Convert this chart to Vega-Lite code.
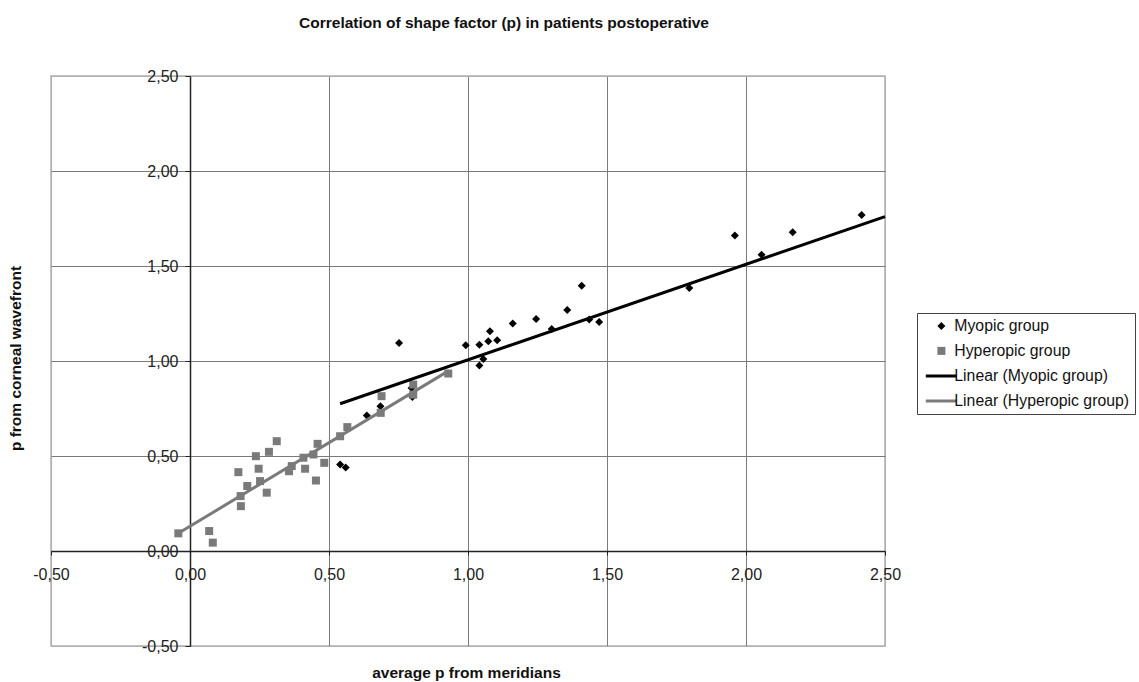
{
  "$schema": "https://vega.github.io/schema/vega-lite/v6.json",
  "autosize": "none",
  "padding": {"left": 51, "top": 76, "right": 254, "bottom": 36},
  "width": 834,
  "height": 570,
  "background": "white",
  "title": {"text": "Correlation of shape factor (p) in patients postoperative", "font": "Liberation Sans", "fontSize": 15.5, "fontWeight": "bold", "color": "#111", "anchor": "middle", "frame": "group", "dx": 36, "offset": 37},
  "config": {
    "view": {"stroke": "#b0b0b0", "strokeWidth": 1.5},
    "axis": {"labelFont": "Liberation Sans", "labelFontSize": 16, "labelColor": "#222", "titleFont": "Liberation Sans", "titleFontSize": 15.5, "titleFontWeight": "bold", "titleColor": "#111", "domainColor": "#222", "domainWidth": 1.5, "tickColor": "#222", "gridWidth": 1, "labelFlush": false}
  },
  "datasets": {
    "points": [
      {"x": 0.54, "y": 0.455, "series": "Myopic group"},
      {"x": 0.56, "y": 0.44, "series": "Myopic group"},
      {"x": 0.636, "y": 0.713, "series": "Myopic group"},
      {"x": 0.685, "y": 0.762, "series": "Myopic group"},
      {"x": 0.752, "y": 1.095, "series": "Myopic group"},
      {"x": 0.797, "y": 0.858, "series": "Myopic group"},
      {"x": 0.80, "y": 0.81, "series": "Myopic group"},
      {"x": 0.992, "y": 1.083, "series": "Myopic group"},
      {"x": 1.041, "y": 1.086, "series": "Myopic group"},
      {"x": 1.041, "y": 0.976, "series": "Myopic group"},
      {"x": 1.055, "y": 1.011, "series": "Myopic group"},
      {"x": 1.073, "y": 1.104, "series": "Myopic group"},
      {"x": 1.079, "y": 1.156, "series": "Myopic group"},
      {"x": 1.105, "y": 1.109, "series": "Myopic group"},
      {"x": 1.161, "y": 1.197, "series": "Myopic group"},
      {"x": 1.245, "y": 1.221, "series": "Myopic group"},
      {"x": 1.301, "y": 1.169, "series": "Myopic group"},
      {"x": 1.357, "y": 1.268, "series": "Myopic group"},
      {"x": 1.409, "y": 1.396, "series": "Myopic group"},
      {"x": 1.436, "y": 1.218, "series": "Myopic group"},
      {"x": 1.472, "y": 1.205, "series": "Myopic group"},
      {"x": 1.796, "y": 1.384, "series": "Myopic group"},
      {"x": 1.96, "y": 1.66, "series": "Myopic group"},
      {"x": 2.056, "y": 1.559, "series": "Myopic group"},
      {"x": 2.168, "y": 1.678, "series": "Myopic group"},
      {"x": 2.416, "y": 1.769, "series": "Myopic group"},
      {"x": -0.042, "y": 0.093, "series": "Hyperopic group"},
      {"x": 0.069, "y": 0.105, "series": "Hyperopic group"},
      {"x": 0.082, "y": 0.044, "series": "Hyperopic group"},
      {"x": 0.174, "y": 0.415, "series": "Hyperopic group"},
      {"x": 0.182, "y": 0.289, "series": "Hyperopic group"},
      {"x": 0.183, "y": 0.236, "series": "Hyperopic group"},
      {"x": 0.206, "y": 0.342, "series": "Hyperopic group"},
      {"x": 0.237, "y": 0.499, "series": "Hyperopic group"},
      {"x": 0.247, "y": 0.433, "series": "Hyperopic group"},
      {"x": 0.252, "y": 0.368, "series": "Hyperopic group"},
      {"x": 0.276, "y": 0.307, "series": "Hyperopic group"},
      {"x": 0.284, "y": 0.522, "series": "Hyperopic group"},
      {"x": 0.312, "y": 0.578, "series": "Hyperopic group"},
      {"x": 0.356, "y": 0.42, "series": "Hyperopic group"},
      {"x": 0.366, "y": 0.447, "series": "Hyperopic group"},
      {"x": 0.408, "y": 0.491, "series": "Hyperopic group"},
      {"x": 0.414, "y": 0.433, "series": "Hyperopic group"},
      {"x": 0.444, "y": 0.508, "series": "Hyperopic group"},
      {"x": 0.453, "y": 0.371, "series": "Hyperopic group"},
      {"x": 0.459, "y": 0.564, "series": "Hyperopic group"},
      {"x": 0.483, "y": 0.464, "series": "Hyperopic group"},
      {"x": 0.54, "y": 0.604, "series": "Hyperopic group"},
      {"x": 0.566, "y": 0.652, "series": "Hyperopic group"},
      {"x": 0.686, "y": 0.727, "series": "Hyperopic group"},
      {"x": 0.689, "y": 0.815, "series": "Hyperopic group"},
      {"x": 0.803, "y": 0.876, "series": "Hyperopic group"},
      {"x": 0.803, "y": 0.823, "series": "Hyperopic group"},
      {"x": 0.929, "y": 0.934, "series": "Hyperopic group"}
    ],
    "trends": [
      {"x": 0.54, "y": 0.775, "series": "Linear (Myopic group)"},
      {"x": 2.5, "y": 1.76, "series": "Linear (Myopic group)"},
      {"x": -0.048, "y": 0.088, "series": "Linear (Hyperopic group)"},
      {"x": 0.93, "y": 0.948, "series": "Linear (Hyperopic group)"}
    ]
  },
  "layer": [
    {
      "data": {"name": "points"},
      "mark": {"type": "point", "filled": true, "opacity": 1, "size": 64},
      "encoding": {
        "x": {"field": "x", "type": "quantitative", "scale": {"domain": [-0.5, 2.5], "nice": false, "zero": false},
          "axis": {"orient": "bottom", "offset": -95, "values": [-0.5, 0, 0.5, 1, 1.5, 2, 2.5],
            "labelExpr": "(datum.value < 0 ? '-' : '') + replace(format(abs(datum.value), '.2f'), '.', ',')",
            "tickSize": 4, "labelPadding": 11, "grid": true,
            "gridColor": {"condition": {"test": "datum.value == 2.5 || datum.value == -0.5", "value": "#b0b0b0"}, "value": "#7a7a7a"},
            "title": "average p from meridians", "titleX": 415, "titleY": 121, "titleAlign": "center", "titleBaseline": "middle"}},
        "y": {"field": "y", "type": "quantitative", "scale": {"domain": [-0.5, 2.5], "nice": false, "zero": false},
          "axis": {"orient": "left", "offset": -139, "values": [-0.5, 0, 0.5, 1, 1.5, 2, 2.5],
            "labelExpr": "(datum.value < 0 ? '-' : '') + replace(format(abs(datum.value), '.2f'), '.', ',')",
            "tickSize": 5, "labelPadding": 7, "grid": true,
            "gridColor": {"condition": {"test": "datum.value == 2.5 || datum.value == -0.5", "value": "#b0b0b0"}, "value": "#7a7a7a"},
            "title": "p from corneal wavefront", "titleX": -175, "titleY": 282, "titleAngle": -90, "titleAlign": "center", "titleBaseline": "middle"}},
        "color": {"field": "series", "type": "nominal",
          "scale": {"domain": ["Myopic group", "Hyperopic group", "Linear (Myopic group)", "Linear (Hyperopic group)"], "range": ["#000000", "#7a7a7a", "#000000", "#7a7a7a"]},
          "legend": {"orient": "none", "legendX": 866, "legendY": 237, "title": null, "strokeColor": "#444", "fillColor": "white", "padding": 5,
            "labelFont": "Liberation Sans", "labelFontSize": 15.8, "labelColor": "#111", "labelLimit": 400, "symbolSize": 64, "symbolOffset": 11.5, "labelOffset": 5, "rowPadding": 8, "symbolStrokeWidth": 0}},
        "shape": {"field": "series", "type": "nominal",
          "scale": {"domain": ["Myopic group", "Hyperopic group", "Linear (Myopic group)", "Linear (Hyperopic group)"], "range": ["diamond", "square", "M-3.9,-0.38H3.9V0.38H-3.9Z", "M-3.9,-0.38H3.9V0.38H-3.9Z"]}}
      }
    },
    {
      "data": {"name": "trends"},
      "mark": {"type": "line", "strokeWidth": 3},
      "encoding": {
        "x": {"field": "x", "type": "quantitative"},
        "y": {"field": "y", "type": "quantitative"},
        "detail": {"field": "series"},
        "color": {"condition": {"test": "datum.series == 'Linear (Myopic group)'", "value": "#000000"}, "value": "#7a7a7a"}
      }
    },
    {
      "mark": {"type": "text", "font": "Liberation Sans", "fontSize": 16, "color": "#222", "align": "center", "baseline": "middle"},
      "encoding": {"x": {"datum": 0.252}, "y": {"datum": 2.254}, "text": {"value": "y = 0,51x + 0,50"}}
    },
    {
      "mark": {"type": "text", "font": "Liberation Sans", "fontSize": 16, "color": "#222", "align": "center", "baseline": "middle"},
      "encoding": {"x": {"datum": 0.252}, "y": {"datum": 2.137}, "text": {"value": "R² = 0,81"}}
    },
    {
      "mark": {"type": "text", "font": "Liberation Sans", "fontSize": 16, "color": "#222", "align": "center", "baseline": "middle"},
      "encoding": {"x": {"datum": 2.205}, "y": {"datum": 2.347}, "text": {"value": "y = 0,88x + 0,13"}}
    },
    {
      "mark": {"type": "text", "font": "Liberation Sans", "fontSize": 16, "color": "#222", "align": "center", "baseline": "middle"},
      "encoding": {"x": {"datum": 2.205}, "y": {"datum": 2.225}, "text": {"value": "R² = 0,86"}}
    }
  ]
}
